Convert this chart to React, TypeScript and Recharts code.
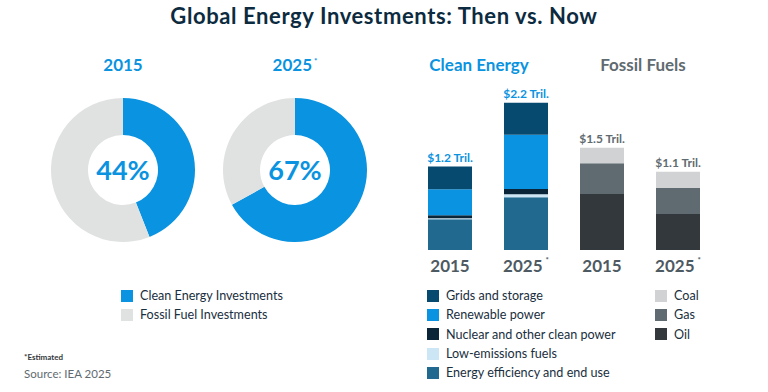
import React from 'react'
import { PieChart, Pie, Cell, Label, BarChart, Bar, XAxis, YAxis, LabelList } from 'recharts'

// donut shares (%)
const donutYears = ['2015', '2025']
const cleanShare = [44, 67]
const fossilShare = [56, 33]

// stacked bars, trillion USD
const barIds = ['c2015', 'c2025', 'f2015', 'f2025']
const barYears = ['2015', '2025', '2015', '2025']
const barTotals = ['$1.2 Tril.', '$2.2 Tril.', '$1.5 Tril.', '$1.1 Tril.']
const efficiency = [0.46, 0.79, 0, 0]
const lowEmissions = [0.015, 0.045, 0, 0]
const nuclear = [0.045, 0.08, 0, 0]
const renewables = [0.39, 0.81, 0, 0]
const grids = [0.34, 0.48, 0, 0]
const oil = [0, 0, 0.84, 0.54]
const gas = [0, 0, 0.46, 0.39]
const coal = [0, 0, 0.23, 0.24]

const BLUE = '#0A93E0'
const LIGHT = '#E0E1E1'
const NAVY = '#0D2B40'
const SLATE = '#5F6B70'
const FONT = 'Lato, "Open Sans", sans-serif'

const cleanLegend = [
  { name: 'Grids and storage', color: '#074A70' },
  { name: 'Renewable power', color: BLUE },
  { name: 'Nuclear and other clean power', color: '#0A2538' },
  { name: 'Low-emissions fuels', color: '#CCE6F6' },
  { name: 'Energy efficiency and end use', color: '#22698F' },
]
const fossilLegend = [
  { name: 'Coal', color: '#D1D2D3' },
  { name: 'Gas', color: SLATE },
  { name: 'Oil', color: '#33383C' },
]

const barData = barIds.map((id, i) => ({
  id,
  efficiency: efficiency[i],
  lowEmissions: lowEmissions[i],
  nuclear: nuclear[i],
  renewables: renewables[i],
  grids: grids[i],
  oil: oil[i],
  gas: gas[i],
  coal: coal[i],
  cleanTotal: grids[i] ? barTotals[i] : '',
  fossilTotal: coal[i] ? barTotals[i] : '',
}))

const Swatch = ({ color }: { color: string }) => (
  <span style={{ display: 'inline-block', width: 12, height: 12, background: color, marginRight: 7, verticalAlign: 'middle' }} />
)

const LegendList = ({ items, left, top, gap }: { items: { name: string; color: string }[]; left: number; top: number; gap: number }) => (
  <div style={{ position: 'absolute', left, top }}>
    {items.map((it) => (
      <div key={it.name} style={{ height: gap, display: 'flex', alignItems: 'center', fontSize: 12.6, color: '#1A2F40' }}>
        <Swatch color={it.color} />
        {it.name}
      </div>
    ))}
  </div>
)

const heading = (text: string, color: string, cx: number, star = false) => (
  <div style={{ position: 'absolute', left: cx - 80, width: 160, top: 54, textAlign: 'center', fontSize: 17, fontWeight: 700, color }}>
    {text}
    {star && <sup style={{ fontSize: 8, marginLeft: 2 }}>*</sup>}
  </div>
)

const XTick = (props: any) => {
  const { x, y, index } = props
  const star = barYears[index] === '2025'
  return (
    <text x={x} y={y + 14} textAnchor="middle" fill="#4D5A62" fontSize={17} fontWeight={700} fontFamily={FONT}>
      {barYears[index]}
      {star && <tspan dx={3} dy={-9} fontSize={8}>*</tspan>}
    </text>
  )
}

const topLabel = (color: string) => (props: any) => {
  const { x, y, width, value } = props
  if (!value) return null
  return (
    <text x={x + width / 2} y={y - 5} textAnchor="middle" fontSize={12} fontWeight={700} fontFamily={FONT} fill={color}>
      {value}
    </text>
  )
}

export default function App() {
  return (
    <div style={{ position: 'fixed', left: 0, top: 0, width: 768, height: 392, background: '#fff', fontFamily: FONT, overflow: 'hidden' }}>
      <div style={{ position: 'absolute', left: 0, width: 768, top: 2, textAlign: 'center', fontSize: 22, fontWeight: 700, letterSpacing: 0.6, color: NAVY }}>
        Global Energy Investments: Then vs. Now
      </div>

      {heading('2015', BLUE, 123)}
      {heading('2025', BLUE, 295, true)}
      {heading('Clean Energy', BLUE, 479)}
      {heading('Fossil Fuels', SLATE, 643)}

      {donutYears.map((yr, i) => (
        <div key={yr} style={{ position: 'absolute', left: 123 + i * 172 - 80, top: 90 }}>
          <PieChart width={160} height={160} margin={{ top: 0, right: 0, bottom: 0, left: 0 }}>
            <Pie
              data={[
                { name: 'Clean Energy Investments', value: cleanShare[i] },
                { name: 'Fossil Fuel Investments', value: fossilShare[i] },
              ]}
              dataKey="value"
              cx={80}
              cy={80}
              innerRadius={35}
              outerRadius={72}
              startAngle={90}
              endAngle={-270}
              stroke="none"
              isAnimationActive={false}
            >
              <Cell fill={BLUE} />
              <Cell fill={LIGHT} />
              <Label value={`${cleanShare[i]}%`} position="center" fill={BLUE} fontSize={27} fontWeight={700} fontFamily={FONT} />
            </Pie>
          </PieChart>
        </div>
      ))}

      <div style={{ position: 'absolute', left: 412, top: 0 }}>
        <BarChart width={304} height={392} data={barData} margin={{ top: 83, right: 0, bottom: 112, left: 0 }} barCategoryGap={16}>
          <YAxis hide domain={[0, 2.5]} />
          <XAxis dataKey="id" axisLine={false} tickLine={false} height={30} interval={0} tick={<XTick />} />
          <Bar dataKey="efficiency" stackId="a" fill="#22698F" barSize={44} isAnimationActive={false} />
          <Bar dataKey="lowEmissions" stackId="a" fill="#CCE6F6" barSize={44} isAnimationActive={false} />
          <Bar dataKey="nuclear" stackId="a" fill="#0A2538" barSize={44} isAnimationActive={false} />
          <Bar dataKey="renewables" stackId="a" fill={BLUE} barSize={44} isAnimationActive={false} />
          <Bar dataKey="grids" stackId="a" fill="#074A70" barSize={44} isAnimationActive={false}>
            <LabelList dataKey="cleanTotal" content={topLabel(BLUE)} />
          </Bar>
          <Bar dataKey="oil" stackId="a" fill="#33383C" barSize={44} isAnimationActive={false} />
          <Bar dataKey="gas" stackId="a" fill={SLATE} barSize={44} isAnimationActive={false} />
          <Bar dataKey="coal" stackId="a" fill="#D1D2D3" barSize={44} isAnimationActive={false}>
            <LabelList dataKey="fossilTotal" content={topLabel(SLATE)} />
          </Bar>
        </BarChart>
      </div>

      <LegendList items={[
        { name: 'Clean Energy Investments', color: BLUE },
        { name: 'Fossil Fuel Investments', color: LIGHT },
      ]} left={121} top={286} gap={19} />
      <LegendList items={cleanLegend} left={427} top={286} gap={19.3} />
      <LegendList items={fossilLegend} left={655} top={286} gap={19.3} />

      <div style={{ position: 'absolute', left: 24, top: 352, fontSize: 8, fontWeight: 700, color: '#33383C' }}>*Estimated</div>
      <div style={{ position: 'absolute', left: 24, top: 367, fontSize: 11.5, color: SLATE }}>Source: IEA 2025</div>
    </div>
  )
}
